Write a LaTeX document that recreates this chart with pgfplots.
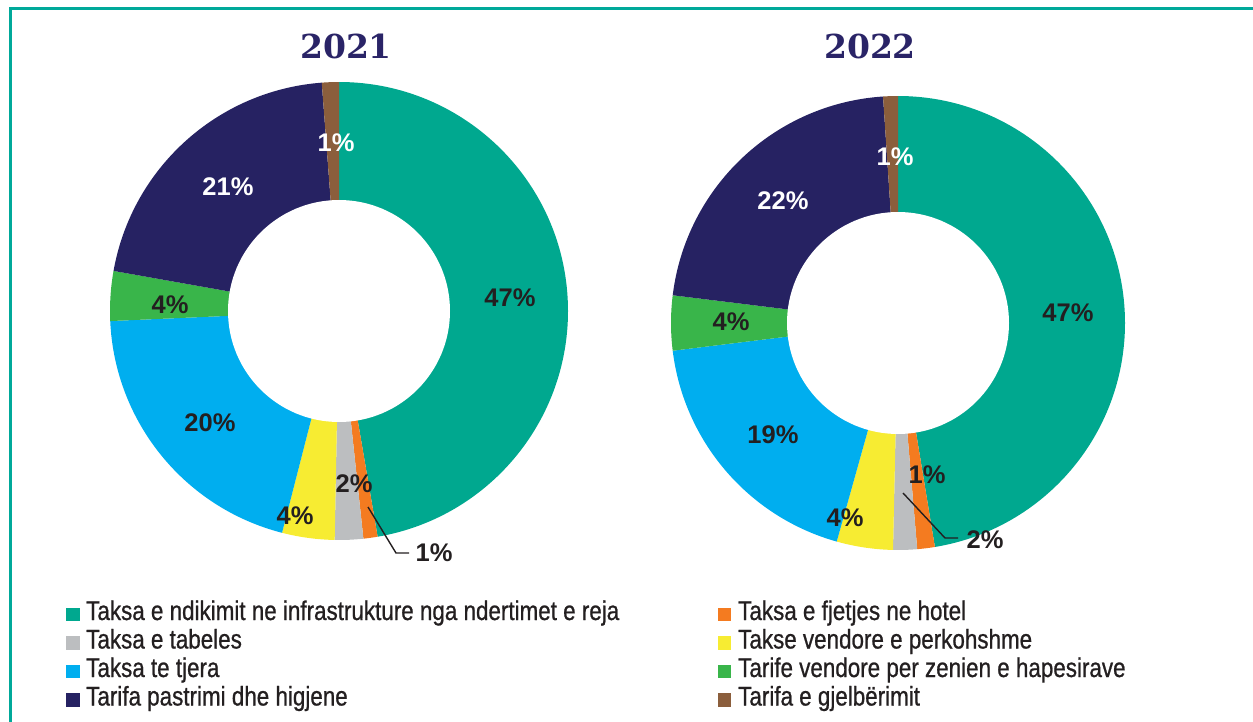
\documentclass[border=0pt]{standalone}
\usepackage{fontspec}
\setmainfont{Liberation Sans}
\newfontfamily\legfont{Liberation Sans}[FakeStretch=0.83, FakeBold=0.8]
\newfontfamily\titlefont{DejaVu Serif}
\usepackage{pgfplots}
\usepackage{pgfplotstable}
\pgfplotsset{compat=1.18}

\definecolor{sc1}{HTML}{00A88F}
\definecolor{sc2}{HTML}{F47B20}
\definecolor{sc3}{HTML}{BCBEC0}
\definecolor{sc4}{HTML}{F7EC32}
\definecolor{sc5}{HTML}{00AEEF}
\definecolor{sc6}{HTML}{39B54A}
\definecolor{sc7}{HTML}{262262}
\definecolor{sc8}{HTML}{8B5E3C}
\definecolor{dark}{HTML}{231F20}
\definecolor{titlenavy}{HTML}{2A2467}
\definecolor{framec}{HTML}{00A99A}

% share (%), label position (px), printed label, label colour
\pgfplotstableread{
value lx  ly  lab tc
47.3  510 298 47  dark
1.0   434 553 1   dark
2.0   354 484 2   dark
3.7   295 516 4   dark
20.3  210 423 20  dark
3.5   170 305 4   dark
21.0  228 187 21  white
1.2   336 143 1   white
}\dataA

\pgfplotstableread{
value lx   ly  lab tc
47.4  1068 313 47  dark
1.25  927  475 1   dark
1.7   985  540 2   dark
4.0   845  518 4   dark
18.7  773  435 19  dark
3.9   731  322 4   dark
22.0  783  201 22  white
1.05  895  157 1   white
}\dataB

\newcommand\lblfont{\bfseries\fontsize{25.5}{30}\selectfont}
\newcommand\legtext{\legfont\fontsize{27}{32}\selectfont}

% #1 table, #2 cx, #3 cy, #4 outer R, #5 inner r
\newcommand\donut[5]{%
  \def\cum{0}%
  \pgfplotsforeachungrouped \i in {0,...,7}{%
    \pgfplotstablegetelem{\i}{value}\of{#1}%
    \pgfmathsetmacro{\aone}{90-3.6*\cum}%
    \pgfmathsetmacro{\cumnew}{\cum+\pgfplotsretval}%
    \pgfmathsetmacro{\atwo}{90-3.6*\cumnew}%
    \let\cum\cumnew
    \pgfmathtruncatemacro{\k}{\i+1}%
    \edef\tmp{\noexpand\fill[sc\k] (axis cs:#2,#3) -- ++(\aone:#4pt) arc[start angle=\aone, end angle=\atwo, radius=#4pt] -- cycle;}%
    \tmp
  }%
  \fill[white] (axis cs:#2,#3) circle[radius=#5pt];
  \pgfplotsforeachungrouped \i in {0,...,7}{%
    \pgfplotstablegetelem{\i}{lx}\of{#1}\let\lx\pgfplotsretval
    \pgfplotstablegetelem{\i}{ly}\of{#1}\let\ly\pgfplotsretval
    \pgfplotstablegetelem{\i}{lab}\of{#1}\let\lab\pgfplotsretval
    \pgfplotstablegetelem{\i}{tc}\of{#1}\let\tc\pgfplotsretval
    \edef\tmp{\noexpand\node[text=\tc, font=\noexpand\lblfont, inner sep=0pt] at (axis cs:\lx,\ly) {\lab\noexpand\%};}%
    \tmp
  }%
}

\begin{document}
\begin{tikzpicture}
\begin{axis}[
  at={(0,0)}, anchor=south west,
  x=1pt, y=1pt, scale only axis,
  xmin=0, xmax=1253, ymin=0, ymax=722,
  y dir=reverse,
  hide axis, clip=false,
]
% frame
\draw[framec, line width=2.7pt] (axis cs:10.3,730) -- (axis cs:10.3,8.7) -- (axis cs:1260,8.7);

% titles
\node[anchor=base, text=titlenavy, font=\titlefont\bfseries\fontsize{33}{38}\selectfont] at (axis cs:346,59) {2021};
\node[anchor=base, text=titlenavy, font=\titlefont\bfseries\fontsize{33}{38}\selectfont] at (axis cs:870,59) {2022};

\donut{\dataA}{339}{311}{229}{111}
\donut{\dataB}{898}{323}{227}{111}

% leader lines
\draw[dark, line width=1.4pt] (axis cs:368,507) -- (axis cs:396,553) -- (axis cs:409,553);
\draw[dark, line width=1.4pt] (axis cs:903,493) -- (axis cs:945,538) -- (axis cs:958,538);

% legend
\fill[sc1] (axis cs:66,607.5) rectangle (axis cs:79.5,621);
\node[anchor=base west, inner sep=0pt, text=dark, font=\legtext] at (axis cs:86,620) {Taksa e ndikimit ne infrastrukture nga ndertimet e reja};
\fill[sc3] (axis cs:66,636) rectangle (axis cs:79.5,649.5);
\node[anchor=base west, inner sep=0pt, text=dark, font=\legtext] at (axis cs:86,648.5) {Taksa e tabeles};
\fill[sc5] (axis cs:66,664.5) rectangle (axis cs:79.5,678);
\node[anchor=base west, inner sep=0pt, text=dark, font=\legtext] at (axis cs:86,677) {Taksa te tjera};
\fill[sc7] (axis cs:66,693) rectangle (axis cs:79.5,706.5);
\node[anchor=base west, inner sep=0pt, text=dark, font=\legtext] at (axis cs:86,705.5) {Tarifa pastrimi dhe higjene};

\fill[sc2] (axis cs:718,607.5) rectangle (axis cs:731,621);
\node[anchor=base west, inner sep=0pt, text=dark, font=\legtext] at (axis cs:738,620) {Taksa e fjetjes ne hotel};
\fill[sc4] (axis cs:718,636) rectangle (axis cs:731,649.5);
\node[anchor=base west, inner sep=0pt, text=dark, font=\legtext] at (axis cs:738,648.5) {Takse vendore e perkohshme};
\fill[sc6] (axis cs:718,664.5) rectangle (axis cs:731,678);
\node[anchor=base west, inner sep=0pt, text=dark, font=\legtext] at (axis cs:738,677) {Tarife vendore per zenien e hapesirave};
\fill[sc8] (axis cs:718,693) rectangle (axis cs:731,706.5);
\node[anchor=base west, inner sep=0pt, text=dark, font=\legtext] at (axis cs:738,705.5) {Tarifa e gjelbërimit};
\end{axis}
\pgfresetboundingbox
\path (0,0) rectangle (1253pt,722pt);
\end{tikzpicture}
\end{document}
